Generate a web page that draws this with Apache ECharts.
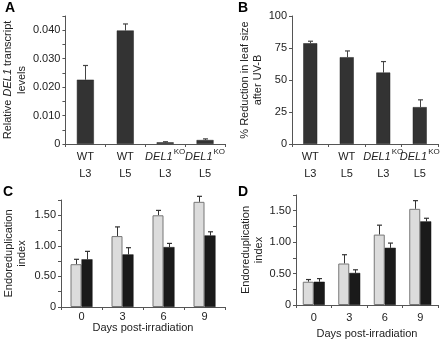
<!DOCTYPE html>
<html>
<head>
<meta charset="utf-8">
<script src="https://cdn.jsdelivr.net/npm/echarts@6/dist/echarts.min.js"></script>
<style>
  html, body { margin: 0; padding: 0; background: #fff; }
  #chart { width: 445px; height: 340px; }
</style>
</head>
<body>
<div id="chart"></div>
<script>
// panel A/B categories
var genotypes = ['WT', 'WT', 'DEL1', 'DEL1'];
var lines = ['L3', 'L5', 'L3', 'L5'];
// A: relative DEL1 transcript levels (mean, + error)
var transcript = [0.0226, 0.0399, 0.0006, 0.0014];
var transcriptErr = [0.0050, 0.0023, 0.0002, 0.0004];
// B: % reduction in leaf size after UV-B
var reduction = [78.7, 67.8, 55.8, 28.8];
var reductionErr = [1.6, 4.9, 8.6, 5.7];
// C/D: endoreduplication index vs days post-irradiation
var days = ['0', '3', '6', '9'];
var endoCLight = [0.70, 1.16, 1.50, 1.72];
var endoCLightErr = [0.08, 0.15, 0.08, 0.09];
var endoCDark = [0.78, 0.86, 0.98, 1.17];
var endoCDarkErr = [0.13, 0.11, 0.06, 0.06];
var endoDLight = [0.37, 0.66, 1.12, 1.53];
var endoDLightErr = [0.035, 0.14, 0.15, 0.13];
var endoDDark = [0.37, 0.51, 0.91, 1.33];
var endoDDarkErr = [0.05, 0.05, 0.075, 0.05];

var font = '"Liberation Sans", Arial, Helvetica, sans-serif';
var txt = '#222';
var axisCol = '#555';

var chart = echarts.init(document.getElementById('chart'));

function errData(vals, errs) {
  return vals.map(function (v, i) { return [i, v, v + errs[i]]; });
}

function errSeries(ax, vals, errs, offset, color) {
  return {
    type: 'custom',
    xAxisIndex: ax,
    yAxisIndex: ax,
    data: errData(vals, errs),
    z: 1,
    clip: false,
    renderItem: function (params, api) {
      var p0 = api.coord([api.value(0), api.value(1)]);
      var p1 = api.coord([api.value(0), api.value(2)]);
      var x = Math.round(p0[0] + offset) + 0.5;
      return {
        type: 'group',
        children: [
          { type: 'line', shape: { x1: x, y1: p0[1], x2: x, y2: p1[1] }, style: { stroke: color, lineWidth: 1 } },
          { type: 'line', shape: { x1: x - 2.5, y1: p1[1], x2: x + 2.5, y2: p1[1] }, style: { stroke: color, lineWidth: 1.2 } }
        ]
      };
    }
  };
}

function genoLabel(v, i) {
  var top = genotypes[i] === 'WT' ? '{n|WT}' : '{i|DEL1}{s|KO}';
  return top + '\n{n|' + lines[i] + '}';
}

var labelRich = {
  n: { fontSize: 11, lineHeight: 17, color: txt, fontFamily: font },
  i: { fontSize: 11, lineHeight: 17, color: txt, fontFamily: font, fontStyle: 'italic' },
  s: { fontSize: 8, lineHeight: 13, color: txt, fontFamily: font, verticalAlign: 'top', padding: [0, 0, 0, 1] }
};

function catAxis(idx, cats, extra) {
  var ax = {
    type: 'category',
    gridIndex: idx,
    data: cats,
    axisLine: { lineStyle: { color: axisCol } },
    axisTick: { show: true, length: 3, lineStyle: { color: axisCol } },
    axisLabel: { fontSize: 11, color: txt, fontFamily: font, margin: 4 }
  };
  return Object.assign(ax, extra || {});
}

function valAxis(idx, max, interval, fmt, name, nameGap, rich) {
  return {
    type: 'value',
    gridIndex: idx,
    min: 0,
    max: max,
    interval: interval,
    splitLine: { show: false },
    axisLine: { show: true, lineStyle: { color: axisCol } },
    axisTick: { show: true, length: 3, lineStyle: { color: axisCol } },
    axisLabel: { fontSize: 11, color: txt, fontFamily: font, margin: 5, formatter: fmt },
    name: name,
    nameLocation: 'middle',
    nameGap: nameGap,
    nameTextStyle: { fontSize: 11, color: txt, fontFamily: font, lineHeight: 13, rich: rich }
  };
}

var option = {
  animation: false,
  backgroundColor: '#fff',
  textStyle: { fontFamily: font },
  grid: [
    { left: 61, top: 16, width: 164, height: 128 },
    { left: 292, top: 16, width: 146, height: 128 },
    { left: 61, top: 200, width: 164, height: 107 },
    { left: 296, top: 195, width: 142, height: 112 }
  ],
  xAxis: [
    catAxis(0, genotypes.map(function (g, i) { return g + ' ' + lines[i]; }), {
      axisLabel: { margin: 4, formatter: genoLabel, rich: labelRich, interval: 0 }
    }),
    catAxis(1, genotypes.map(function (g, i) { return g + ' ' + lines[i]; }), {
      axisLabel: { margin: 4, formatter: genoLabel, rich: labelRich, interval: 0 }
    }),
    catAxis(2, days, {
      name: 'Days post-irradiation', nameLocation: 'middle', nameGap: 14,
      nameTextStyle: { fontSize: 11, color: txt, fontFamily: font },
      axisLabel: { fontSize: 11, color: txt, fontFamily: font, margin: 4 }
    }),
    catAxis(3, days, {
      name: 'Days post-irradiation', nameLocation: 'middle', nameGap: 23,
      nameTextStyle: { fontSize: 11, color: txt, fontFamily: font },
      axisLabel: { fontSize: 11, color: txt, fontFamily: font, margin: 7 }
    })
  ],
  yAxis: [
    valAxis(0, 0.045, 0.005, function (v) {
      var k = Math.round(v * 1000);
      if (k % 10 !== 0) return '';
      return k === 0 ? '0' : v.toFixed(3);
    }, '{a|Relative }{b|DEL1}{a| transcript}\n{a|levels}', 32, {
      a: { fontSize: 11, lineHeight: 14, color: txt, fontFamily: font },
      b: { fontSize: 11, lineHeight: 14, color: txt, fontFamily: font, fontStyle: 'italic' }
    }),
    valAxis(1, 100, 25, function (v) { return String(v); },
      '% Reduction in leaf size\nafter UV-B', 24),
    valAxis(2, 1.75, 0.25, function (v) {
      var k = Math.round(v * 100);
      if (k % 50 !== 0) return '';
      return k === 0 ? '0' : v.toFixed(2);
    }, 'Endoreduplication\nindex', 33),
    valAxis(3, 1.75, 0.25, function (v) {
      var k = Math.round(v * 100);
      if (k % 50 !== 0) return '';
      return k === 0 ? '0' : v.toFixed(2);
    }, 'Endoreduplication\nindex', 30)
  ],
  graphic: [
    { type: 'text', left: 5, top: 1, style: { text: 'A', font: 'bold 14px ' + font, fill: '#000' } },
    { type: 'text', left: 238, top: 1, style: { text: 'B', font: 'bold 14px ' + font, fill: '#000' } },
    { type: 'text', left: 3, top: 185, style: { text: 'C', font: 'bold 14px ' + font, fill: '#000' } },
    { type: 'text', left: 238, top: 185, style: { text: 'D', font: 'bold 14px ' + font, fill: '#000' } }
  ],
  series: [
    { type: 'bar', xAxisIndex: 0, yAxisIndex: 0, data: transcript, barWidth: 17, z: 2,
      itemStyle: { color: '#333', borderColor: '#222', borderWidth: 0.5 } },
    errSeries(0, transcript, transcriptErr, 0, '#444'),
    { type: 'bar', xAxisIndex: 1, yAxisIndex: 1, data: reduction, barWidth: 14, z: 2,
      itemStyle: { color: '#333', borderColor: '#222', borderWidth: 0.5 } },
    errSeries(1, reduction, reductionErr, 0, '#444'),

    { type: 'bar', xAxisIndex: 2, yAxisIndex: 2, data: endoCLight, barWidth: 11, barGap: '0%', z: 2,
      itemStyle: { color: '#dcdcdc', borderColor: '#777', borderWidth: 1 } },
    { type: 'bar', xAxisIndex: 2, yAxisIndex: 2, data: endoCDark, barWidth: 11, barGap: '0%', z: 2,
      itemStyle: { color: '#1a1a1a', borderColor: '#111', borderWidth: 0.5 } },
    errSeries(2, endoCLight, endoCLightErr, -5.5, '#333'),
    errSeries(2, endoCDark, endoCDarkErr, 5.5, '#333'),

    { type: 'bar', xAxisIndex: 3, yAxisIndex: 3, data: endoDLight, barWidth: 11, barGap: '0%', z: 2,
      itemStyle: { color: '#dcdcdc', borderColor: '#777', borderWidth: 1 } },
    { type: 'bar', xAxisIndex: 3, yAxisIndex: 3, data: endoDDark, barWidth: 11, barGap: '0%', z: 2,
      itemStyle: { color: '#1a1a1a', borderColor: '#111', borderWidth: 0.5 } },
    errSeries(3, endoDLight, endoDLightErr, -5.5, '#333'),
    errSeries(3, endoDDark, endoDDarkErr, 5.5, '#333')
  ]
};

option && chart.setOption(option);
</script>
</body>
</html>
